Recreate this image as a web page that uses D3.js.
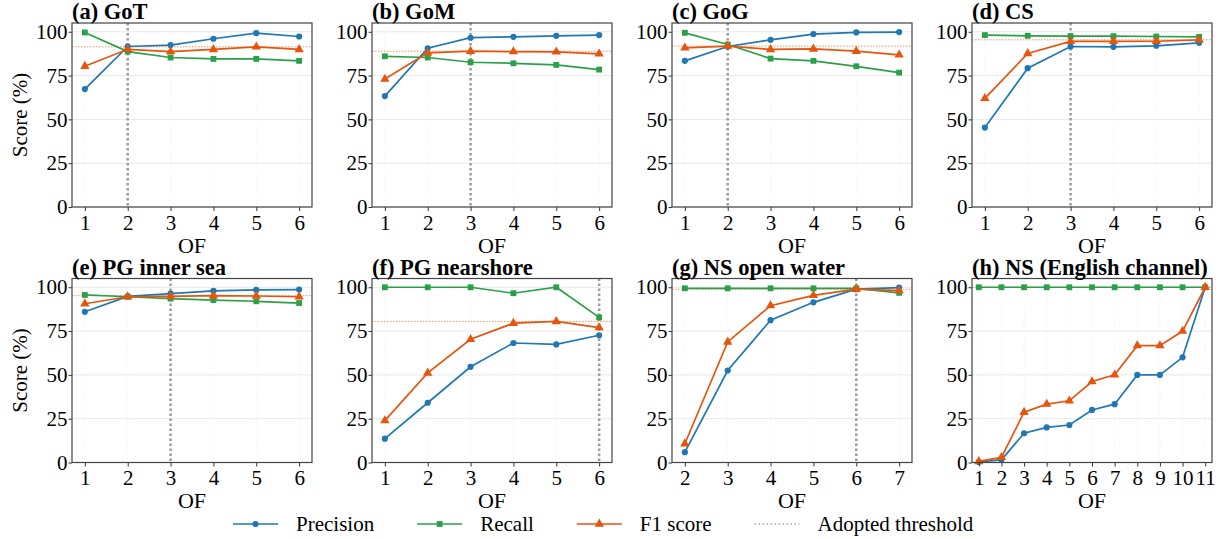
<!DOCTYPE html>
<html>
<head>
<meta charset="utf-8">
<script src="https://cdn.jsdelivr.net/npm/d3@7"></script>
<style>
  body { margin: 0; background: #fff; }
  text { font-family: "Liberation Serif", "Times New Roman", serif; fill: #000; }
</style>
</head>
<body>
<svg id="chart" width="1225" height="539"></svg>
<script>
// panel titles and x values (OF)
const titles = ["(a) GoT", "(b) GoM", "(c) GoG", "(d) CS",
  "(e) PG inner sea", "(f) PG nearshore", "(g) NS open water", "(h) NS (English channel)"]
const ofValues = [
  [1, 2, 3, 4, 5, 6], [1, 2, 3, 4, 5, 6], [1, 2, 3, 4, 5, 6], [1, 2, 3, 4, 5, 6],
  [1, 2, 3, 4, 5, 6], [1, 2, 3, 4, 5, 6], [2, 3, 4, 5, 6, 7],
  [1, 2, 3, 4, 5, 6, 7, 8, 9, 10, 11]
]
const precision = [
  [67.3, 91.6, 92.4, 96.0, 99.2, 97.3],
  [63.3, 90.6, 96.6, 97.1, 97.7, 98.1],
  [83.4, 91.6, 95.4, 98.7, 99.6, 99.8],
  [45.3, 79.2, 91.6, 91.4, 92.0, 93.7],
  [86.0, 94.8, 96.4, 97.9, 98.5, 98.7],
  [13.6, 34.1, 54.6, 68.2, 67.4, 72.6],
  [5.9, 52.5, 81.2, 91.4, 98.9, 99.8],
  [0.3, 1.5, 16.7, 20.0, 21.4, 30.0, 33.3, 50.0, 50.0, 60.0, 100]
]
const recall = [
  [99.6, 88.7, 85.3, 84.5, 84.5, 83.4],
  [86.0, 85.3, 82.6, 82.0, 81.1, 78.4],
  [99.4, 92.7, 84.7, 83.4, 80.3, 76.7],
  [98.1, 97.7, 97.5, 97.5, 97.3, 97.1],
  [95.6, 94.6, 93.5, 92.7, 92.0, 91.0],
  [100, 100, 100, 96.6, 100, 82.8],
  [99.4, 99.4, 99.4, 99.4, 99.4, 96.8],
  [100, 100, 100, 100, 100, 100, 100, 100, 100, 100, 100]
]
const f1 = [
  [80.3, 90.0, 88.7, 89.9, 91.4, 89.9],
  [73.0, 88.0, 88.9, 88.7, 88.5, 87.4],
  [90.8, 91.8, 89.9, 90.2, 88.9, 86.8],
  [62.0, 87.6, 94.5, 94.5, 94.6, 95.4],
  [90.6, 94.6, 94.8, 95.2, 95.0, 94.6],
  [23.9, 51.1, 70.3, 79.5, 80.5, 77.0],
  [10.7, 68.8, 89.5, 95.4, 98.9, 98.1],
  [0.6, 2.9, 28.7, 33.3, 35.2, 46.2, 50.0, 66.7, 66.7, 75.0, 100]
]
const adopted = [2, 3, 2, 3, 3, 6, 6, null]
const yTicks = [0, 25, 50, 75, 100]

const seriesNames = ["Precision", "Recall", "F1 score"]
const colors = ["#1f77b4", "#2ca048", "#e6550d"]
const markers = [d3.symbolCircle, d3.symbolSquare, d3.symbolTriangle]
const markerSizes = [30, 34, 38]

const svg = d3.select("#chart")
const fontSize = 21

const drawPanel = (i) => {
  let col = i % 4, row = Math.floor(i / 4)
  let left = 72 + col * 300, width = 240
  let top = row === 0 ? 23 : 278.5, height = 184
  let xs = ofValues[i]
  let x = d3.scaleLinear().domain([d3.min(xs) - 0.3, d3.max(xs) + 0.3]).range([0, width])
  let y = d3.scaleLinear().domain([0, 105]).range([height, 0])

  let g = svg.append("g").attr("transform", `translate(${left},${top})`)

  // grid
  g.selectAll(".hgrid").data(yTicks).enter().append("line")
    .attr("x1", 0).attr("x2", width)
    .attr("y1", d => y(d)).attr("y2", d => y(d))
    .attr("stroke", "#e8e8e8").attr("stroke-width", 1)
  g.selectAll(".vgrid").data(xs).enter().append("line")
    .attr("x1", d => x(d)).attr("x2", d => x(d))
    .attr("y1", 0).attr("y2", height)
    .attr("stroke", "#ececec").attr("stroke-width", 0.8).attr("stroke-dasharray", "1,2")

  // best F1 reference line
  let best = d3.max(f1[i])
  g.append("line")
    .attr("x1", 0).attr("x2", width)
    .attr("y1", y(best)).attr("y2", y(best))
    .attr("stroke", "#e6550d").attr("stroke-opacity", 0.7)
    .attr("stroke-width", 0.9).attr("stroke-dasharray", "1.5,1.5")

  // adopted threshold
  if (adopted[i] !== null) {
    g.append("line")
      .attr("x1", x(adopted[i])).attr("x2", x(adopted[i]))
      .attr("y1", 0).attr("y2", height)
      .attr("stroke", "#9c9c9c").attr("stroke-width", 2.5).attr("stroke-dasharray", "2.5,2.5")
  }

  let all = [precision[i], recall[i], f1[i]]
  all.forEach((vals, s) => {
    let pts = vals.map((v, k) => [xs[k], v])
    g.append("path")
      .attr("d", d3.line().x(d => x(d[0])).y(d => y(d[1]))(pts))
      .attr("fill", "none").attr("stroke", colors[s]).attr("stroke-width", 1.7)
    g.selectAll(".m" + s).data(pts).enter().append("path")
      .attr("d", d3.symbol().type(markers[s]).size(markerSizes[s]))
      .attr("transform", d => `translate(${x(d[0])},${y(d[1])})`)
      .attr("fill", colors[s])
  })

  // axes
  let xAxis = g.append("g").attr("transform", `translate(0,${height})`)
    .call(d3.axisBottom(x).tickValues(xs).tickFormat(d3.format("d")).tickSize(4).tickPadding(4))
  let yAxis = g.append("g")
    .call(d3.axisLeft(y).tickValues(yTicks).tickSize(3.5).tickPadding(1))
  ;[xAxis, yAxis].forEach(a => {
    a.select(".domain").remove()
    a.selectAll("line").attr("stroke", "#333")
    a.selectAll("text").style("font-size", fontSize + "px")
      .style("font-family", '"Liberation Serif", "Times New Roman", serif')
  })

  g.append("rect").attr("width", width).attr("height", height)
    .attr("fill", "none").attr("stroke", "#444").attr("stroke-width", 1.2)

  g.append("text").attr("x", 0).attr("y", -4)
    .style("font-size", "22.5px").style("font-weight", "bold")
    .text(titles[i])

  g.append("text").attr("x", width / 2).attr("y", height + 45.5)
    .attr("text-anchor", "middle").style("font-size", "22px").text("OF")

  if (col === 0) {
    g.append("text")
      .attr("transform", `translate(-45,${height / 2}) rotate(-90)`)
      .attr("text-anchor", "middle").style("font-size", fontSize + "px")
      .text("Score (%)")
  }
}

for (let i = 0; i < titles.length; i++) drawPanel(i)

// legend
const legendItems = seriesNames.map((n, s) => ({ name: n, color: colors[s], marker: markers[s], size: markerSizes[s] }))
legendItems.push({ name: "Adopted threshold", color: "#aaa", marker: null })

let legend = svg.append("g").attr("transform", "translate(0,524)")
let lx = 233
legendItems.forEach(item => {
  let it = legend.append("g").attr("transform", `translate(${lx},0)`)
  if (item.marker) {
    it.append("line").attr("x1", 0).attr("x2", 45).attr("stroke", item.color).attr("stroke-width", 1.7)
    it.append("path").attr("d", d3.symbol().type(item.marker).size(item.size))
      .attr("transform", "translate(22.5,0)").attr("fill", item.color)
  } else {
    it.append("line").attr("x1", 0).attr("x2", 45).attr("stroke", item.color)
      .attr("stroke-width", 1.5).attr("stroke-dasharray", "1.5,2.5")
  }
  let t = it.append("text").attr("x", 63).attr("dy", "0.35em")
    .style("font-size", fontSize + "px").text(item.name)
  lx += 63 + t.node().getComputedTextLength() + 43
})
</script>
</body>
</html>
